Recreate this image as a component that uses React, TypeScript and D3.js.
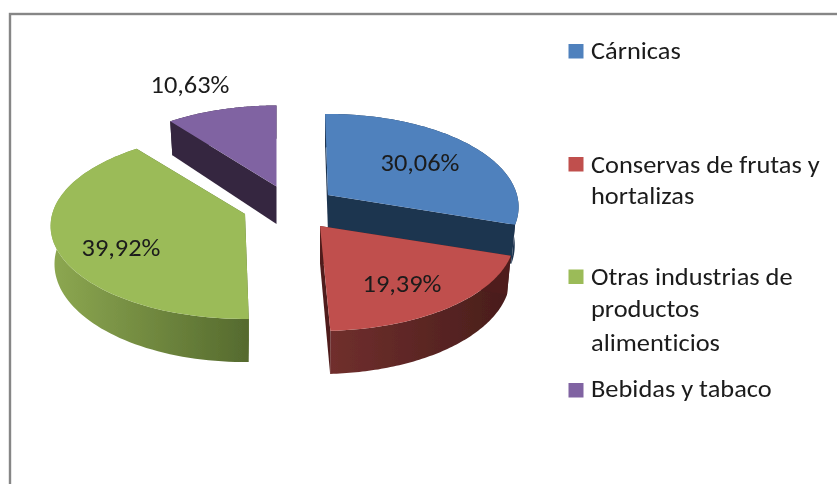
import React from "react";
import * as d3 from "d3";

const categories = ["Cárnicas", "Conservas de frutas y hortalizas", "Otras industrias de productos alimenticios", "Bebidas y tabaco"];
const shares = [30.06, 19.39, 39.92, 10.63];
const shareLabels = ["30,06%", "19,39%", "39,92%", "10,63%"];
const legendLines = [["Cárnicas"], ["Conservas de frutas y", "hortalizas"], ["Otras industrias de", "productos", "alimenticios"], ["Bebidas y tabaco"]];

// layout and style (not data)
const topColors = ["#4F81BD", "#C0504D", "#9BBB59", "#8064A2"];
const cutColors = ["#1F344F", "#4F1F1D", "#566B2E", "#35273F"];
const wallFrom = ["#1F344F", "#702F2D", "#8DA851", "#35273F"];
const wallTo = ["#1F344F", "#481D1B", "#556A2E", "#35273F"];
const apexes: [number, number][] = [[328, 195], [320, 226], [245, 214], [276.5, 186.5]];
const widthScale = [1, 1.02, 1.02, 1];
const startNudge = [-1, 0, 1, 0];
const endNudge = [0, -0.7, 0, 0];
const labelPos: [number, number][] = [[420, 171], [402, 292], [121, 256], [190, 93]];
const swatchY = [44, 157, 269.5, 383];
const legendBaselines = [[59], [173, 204], [285, 317, 351], [397]];
const drawOrder = [3, 2, 0, 1];

const RX = 189, RY = 91.45, PERSP = 0.129, DEPTH = 37.5, BOTTOM_SHRINK = 0.98;
const FONT = "Carlito, Lato, 'Open Sans', sans-serif";
const FONT_SIZE = 24, TEXT_STRETCH = 1.1;

const project = (apex: [number, number], theta: number, drop: boolean, sx: number): [number, number] => {
  const X = Math.sin(theta), Z = Math.cos(theta), w = 1 + PERSP * Z;
  const dx = (RX * sx * X) / w, dy = (-RY * Z) / w;
  return drop
    ? [apex[0] + dx * BOTTOM_SHRINK, apex[1] + dy + DEPTH / w]
    : [apex[0] + dx, apex[1] + dy];
};

const line = d3.line<[number, number]>().x((d) => d[0]).y((d) => d[1]);

export default function App() {
  const arcs = d3.pie<number>().sort(null).value((d) => d)(shares);
  const textProps = {
    fontFamily: FONT,
    fontSize: FONT_SIZE,
    fill: "#1a1a1a",
    style: { fontVariantLigatures: "none" as const },
  };
  return (
    <svg width={837} height={484} viewBox="0 0 837 484" style={{ position: "absolute", left: 0, top: 0, background: "#fff" }}>
      <defs>
        <filter id="soft" x="-5%" y="-5%" width="110%" height="110%">
          <feGaussianBlur stdDeviation="0.45" />
        </filter>
        {arcs.map((_, i) => (
          <linearGradient key={i} id={`wall${i}`} x1="0" x2="1" y1="0" y2="0">
            <stop offset="0" stopColor={wallFrom[i]} />
            <stop offset="1" stopColor={wallTo[i]} />
          </linearGradient>
        ))}
      </defs>
      <rect x={10} y={14} width={900} height={600} fill="#fff" stroke="#868686" strokeWidth={2.4} />
      <g filter="url(#soft)">
        {drawOrder.map((i) => {
          const a = arcs[i];
          const apex = apexes[i];
          const t0 = a.startAngle + ((startNudge[i] + 0) * Math.PI) / 180;
          const t1 = a.endAngle + (endNudge[i] * Math.PI) / 180;
          const thetas = d3.range(0, 81).map((k) => t0 + ((t1 - t0) * k) / 80);
          const topRim = thetas.map((t) => project(apex, t, false, widthScale[i]));
          const lowRim = thetas.map((t) => project(apex, t, true, widthScale[i]));
          const apexLow: [number, number] = [apex[0], apex[1] + DEPTH];
          const topFace = line([apex, ...topRim])! + "Z";
          const wall = line([...topRim, ...lowRim.slice().reverse()])! + "Z";
          const cutA = line([apex, topRim[0], lowRim[0], apexLow])! + "Z";
          const cutB = line([apex, topRim[80], lowRim[80], apexLow])! + "Z";
          return (
            <g key={i}>
              <path d={wall} fill={`url(#wall${i})`} />
              <path d={cutA} fill={cutColors[i]} />
              <path d={cutB} fill={cutColors[i]} />
              <path d={topFace} fill={topColors[i]} />
            </g>
          );
        })}
        {shareLabels.map((s, i) => (
          <text key={s} transform={`translate(${labelPos[i][0]},${labelPos[i][1]}) scale(${TEXT_STRETCH},1)`} textAnchor="middle" {...textProps}>
            {s}
          </text>
        ))}
        {categories.map((c, i) => (
          <g key={c}>
            <rect x={568.5} y={swatchY[i]} width={15} height={14.5} fill={topColors[i]} />
            {legendLines[i].map((l, j) => (
              <text key={l} transform={`translate(591,${legendBaselines[i][j]}) scale(${TEXT_STRETCH},1)`} {...textProps}>
                {l}
              </text>
            ))}
          </g>
        ))}
      </g>
    </svg>
  );
}
